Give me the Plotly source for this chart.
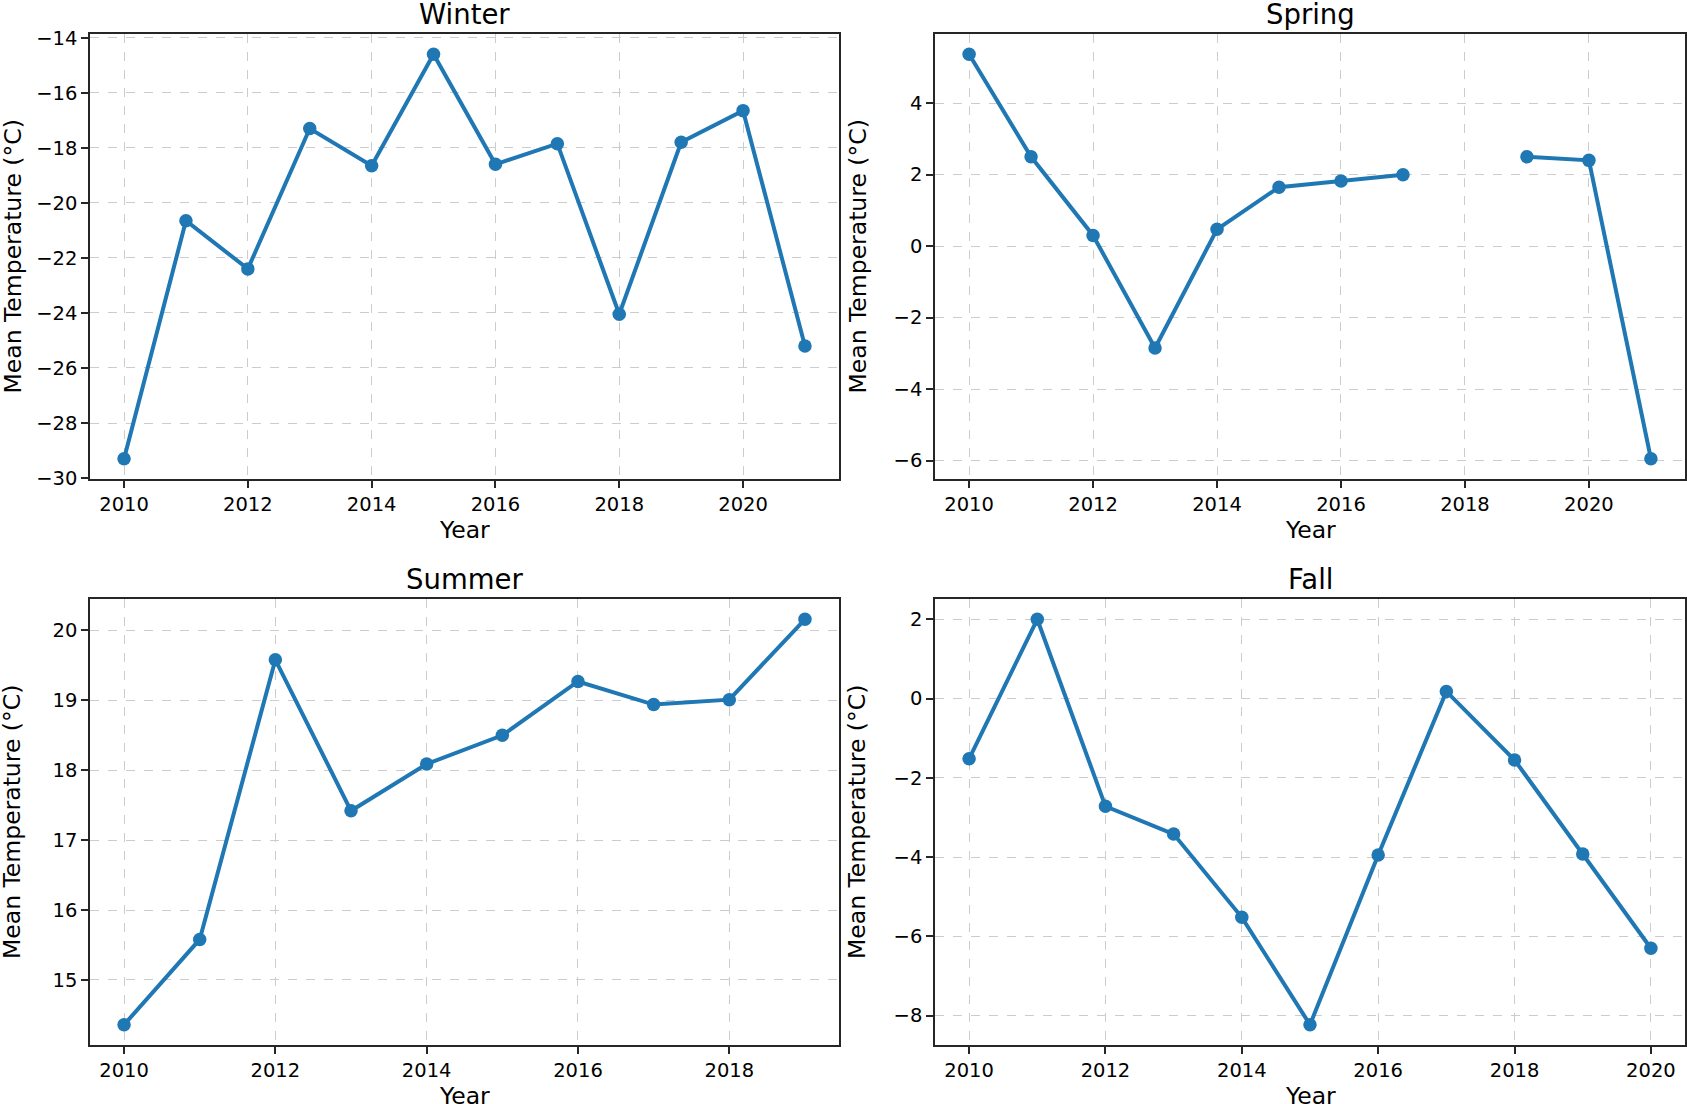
import plotly.graph_objects as go

years_winter = [2010, 2011, 2012, 2013, 2014, 2015, 2016, 2017, 2018, 2019, 2020, 2021]
winter = [-29.3, -20.65, -22.4, -17.3, -18.65, -14.6, -18.6, -17.85, -24.05, -17.8, -16.65, -25.2]

years_spring = [2010, 2011, 2012, 2013, 2014, 2015, 2016, 2017, 2018, 2019, 2020, 2021]
spring = [5.37, 2.5, 0.3, -2.85, 0.47, 1.65, 1.82, 2.0, None, 2.5, 2.4, -5.95]

years_summer = [2010, 2011, 2012, 2013, 2014, 2015, 2016, 2017, 2018, 2019]
summer = [14.36, 15.58, 19.58, 17.42, 18.09, 18.5, 19.27, 18.94, 19.01, 20.16]

years_fall = [2010, 2011, 2012, 2013, 2014, 2015, 2016, 2017, 2018, 2019, 2020]
fall = [-1.52, 2.0, -2.72, -3.42, -5.52, -8.23, -3.95, 0.18, -1.55, -3.92, -6.3]

titles = ["Winter", "Spring", "Summer", "Fall"]
x_label = "Year"
y_label = "Mean Temperature (°C)"

W, H = 1687, 1104
# panel boxes in pixels (left, right, top, bottom)
boxes = [(90, 839, 34, 479), (935, 1685, 34, 479), (90, 839, 599, 1045), (935, 1685, 599, 1045)]
ydticks = [2, 2, 1, 2]
series = [(years_winter, winter), (years_spring, spring), (years_summer, summer), (years_fall, fall)]

BLUE = "#1f77b4"
FONT = "DejaVu Sans"
fig = go.Figure()

def padded(vals):
    v = [a for a in vals if a is not None]
    lo, hi = min(v), max(v)
    p = (hi - lo) * 0.05
    return [lo - p, hi + p]

annotations = []
for i, ((xs, ys), title, box, dt) in enumerate(zip(series, titles, boxes, ydticks)):
    n = "" if i == 0 else str(i + 1)
    l, r, t, b = box
    xd = [l / W, r / W]
    yd = [1 - b / H, 1 - t / H]
    fig.add_trace(go.Scatter(
        x=xs, y=ys, mode="lines+markers", connectgaps=False,
        line=dict(color=BLUE, width=4),
        marker=dict(color=BLUE, size=13.5),
        xaxis="x" + n, yaxis="y" + n, showlegend=False,
    ))
    axcommon = dict(
        showline=True, mirror=True, linecolor="#262626", linewidth=1.6,
        ticks="outside", ticklen=7, tickwidth=1.5, tickcolor="#262626",
        showgrid=True, gridcolor="#cccccc", griddash="dash", gridwidth=1.4,
        zeroline=False, automargin=False,
        tickfont=dict(family=FONT, size=19.5, color="#000"),
    )
    fig.update_layout(**{
        "xaxis" + n: dict(domain=xd, anchor="y" + n, range=padded(xs), dtick=2, tick0=2010, **axcommon),
        "yaxis" + n: dict(domain=yd, anchor="x" + n, range=padded(ys), dtick=dt, **axcommon),
    })
    cx = (l + r) / 2 / W
    annotations.append(dict(text=title, x=cx, y=1 - t / H, xref="paper", yref="paper",
                            xanchor="center", yanchor="bottom", yshift=2, showarrow=False,
                            font=dict(family=FONT, size=27.5, color="#000")))
    annotations.append(dict(text=x_label, x=cx, y=1 - (b + 51) / H, xref="paper", yref="paper",
                            xanchor="center", yanchor="middle", showarrow=False,
                            font=dict(family=FONT, size=23.5, color="#000")))
    annotations.append(dict(text=y_label, x=(l - 78) / W, y=(yd[0] + yd[1]) / 2, xref="paper", yref="paper",
                            xanchor="center", yanchor="middle", textangle=-90, showarrow=False,
                            font=dict(family=FONT, size=23.5, color="#000")))

fig.update_layout(
    width=W, height=H, margin=dict(l=0, r=0, t=0, b=0),
    paper_bgcolor="white", plot_bgcolor="white",
    annotations=annotations, showlegend=False,
    font=dict(family=FONT),
)
fig.write_html("out.html", config={"displayModeBar": False},
               post_script="document.body.style.margin='0';document.body.style.overflow='hidden';")
